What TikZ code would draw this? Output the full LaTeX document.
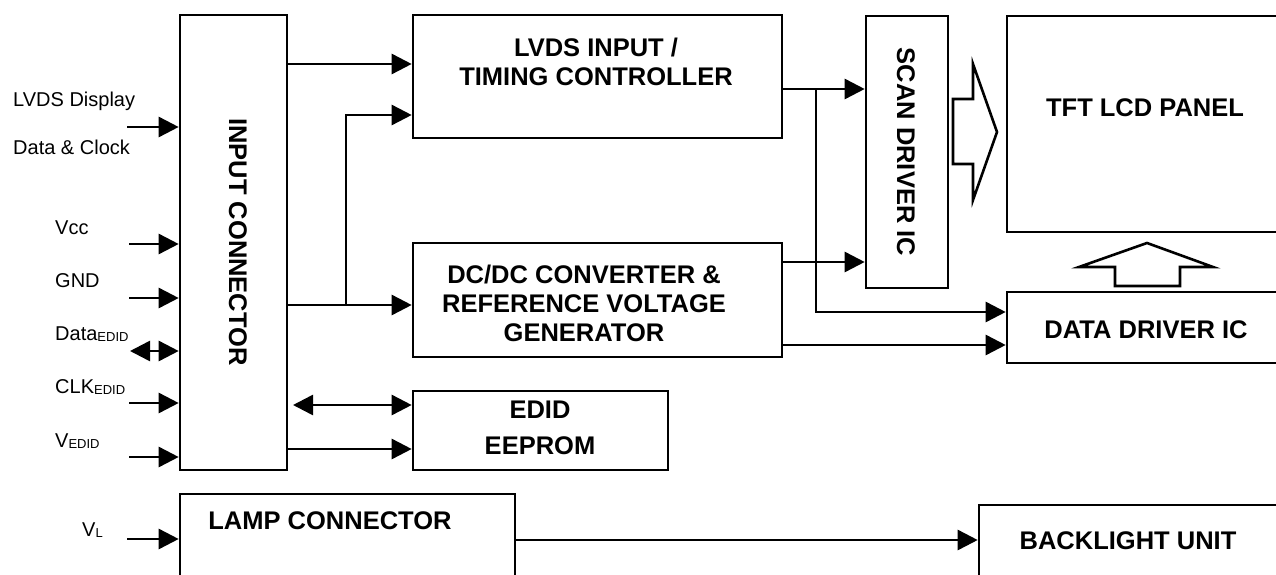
\documentclass[tikz,border=0pt]{standalone}
\usepackage{fontspec}
\setmainfont{Liberation Sans}
\usetikzlibrary{arrows.meta}
\begin{document}
\begin{tikzpicture}[x=1pt,y=-1pt,
  blk/.style={draw, line width=2.6pt, inner sep=0pt, outer sep=1.3pt, rectangle},
  con/.style={line width=2.6pt, -{Triangle[length=20pt,width=20pt]}},
  bicon/.style={line width=2.6pt, {Triangle[length=20pt,width=20pt]}-{Triangle[length=20pt,width=20pt]}},
  lbl/.style={font=\fontsize{20}{24}\selectfont, inner sep=0pt, anchor=base west},
  btxt/.style={font=\fontsize{25.5}{29}\selectfont\bfseries, inner sep=0pt, align=center},
  hollow/.style={draw, line width=2.6pt, line join=miter, fill=white}
]
\useasboundingbox (0,0) rectangle (1276,575);
% blocks
\node[blk, minimum width=107pt, minimum height=455pt] (inconn) at (233.5,242.5) {};
\node[blk, minimum width=369pt, minimum height=123pt] (lvds) at (597.5,76.5) {};
\node[blk, minimum width=82pt, minimum height=272pt] (scan) at (907,152) {};
\node[blk, minimum width=283pt, minimum height=216pt] (tft) at (1148.5,124) {};
\node[blk, minimum width=369pt, minimum height=114pt] (dcdc) at (597.5,300) {};
\node[blk, minimum width=283pt, minimum height=71pt] (data) at (1148.5,327.5) {};
\node[blk, minimum width=255pt, minimum height=79pt] (edid) at (540.5,430.5) {};
\node[blk, minimum width=335pt, minimum height=96pt] (lamp) at (347.5,542) {};
\node[blk, minimum width=311pt, minimum height=75pt] (backlight) at (1134.5,542.5) {};
% block texts
\node[btxt, rotate=-90] (inconnT) at (238,242) {INPUT CONNECTOR};
\node[btxt] (lvdsT) at (596,62) {LVDS INPUT /\\TIMING CONTROLLER};
\node[btxt, rotate=-90] (scanT) at (906,152) {SCAN DRIVER IC};
\node[btxt] (tftT) at (1145,108) {TFT LCD PANEL};
\node[btxt] (dcdcT) at (584,303) {DC/DC CONVERTER \&\\REFERENCE VOLTAGE\\GENERATOR};
\node[btxt, font=\fontsize{25.5}{36}\selectfont\bfseries] (edidT) at (540,428) {EDID\\EEPROM};
\node[btxt] (dataT) at (1146,330) {DATA DRIVER IC};
\node[btxt] (lampT) at (330,521) {LAMP CONNECTOR};
\node[btxt] (backT) at (1128,541) {BACKLIGHT UNIT};
% hollow arrows
\draw[hollow] (953,99) -- (973,99) -- (973,64) -- (997,132) -- (973,200) -- (973,164) -- (953,164) -- cycle;
\draw[hollow] (1115,286) -- (1115,267) -- (1079,267) -- (1147,243) -- (1213,267) -- (1180,267) -- (1180,286) -- cycle;
% input labels
\node[lbl] (l1) at (13,107) {LVDS Display};
\node[lbl] (l2) at (13,154) {Data \& Clock};
\node[lbl] (l3) at (55,234) {Vcc};
\node[lbl] (l4) at (55,287) {GND};
\node[lbl] (l5) at (55,340) {Data\raisebox{-1.5pt}{\fontsize{13}{13}\selectfont EDID}};
\node[lbl] (l6) at (55,393) {CLK\raisebox{-1.5pt}{\fontsize{13}{13}\selectfont EDID}};
\node[lbl] (l7) at (55,447) {V\raisebox{-1.5pt}{\fontsize{13}{13}\selectfont EDID}};
\node[lbl] (l8) at (82,536) {V\raisebox{-1pt}{\fontsize{13}{13}\selectfont L}};
% input arrows
\coordinate (s1) at (127,127);
\coordinate (s2) at (129,244);
\coordinate (s3) at (129,298);
\coordinate (s4) at (130,351);
\coordinate (s5) at (129,403);
\coordinate (s6) at (129,457);
\coordinate (s7) at (127,539);
\draw[con] (s1) -- (inconn.west |- s1);
\draw[con] (s2) -- (inconn.west |- s2);
\draw[con] (s3) -- (inconn.west |- s3);
\draw[bicon] (s4) -- (inconn.west |- s4);
\draw[con] (s5) -- (inconn.west |- s5);
\draw[con] (s6) -- (inconn.west |- s6);
\draw[con] (s7) -- (lamp.west |- s7);
% internal connectors
\draw[con] (inconn.east |- 0,64) -- (lvds.west |- 0,64);
\draw[con] (inconn.east |- 0,305) -- (dcdc.west |- 0,305);
\coordinate (j1) at (346,305);
\draw[con] (j1) |- (lvds.west |- 0,115);
\draw[con] (lvds.east |- 0,89) -- (scan.west |- 0,89);
\coordinate (j2) at (816,89);
\draw[con] (j2) |- (data.west |- 0,312);
\draw[con] (dcdc.east |- 0,262) -- (scan.west |- 0,262);
\draw[con] (dcdc.east |- 0,345) -- (data.west |- 0,345);
\coordinate (e1) at (293,405);
\draw[bicon] (e1) -- (edid.west |- e1);
\draw[con] (inconn.east |- 0,449) -- (edid.west |- 0,449);
\draw[con] (lamp.east |- 0,540) -- (backlight.west |- 0,540);
\end{tikzpicture}
\end{document}
